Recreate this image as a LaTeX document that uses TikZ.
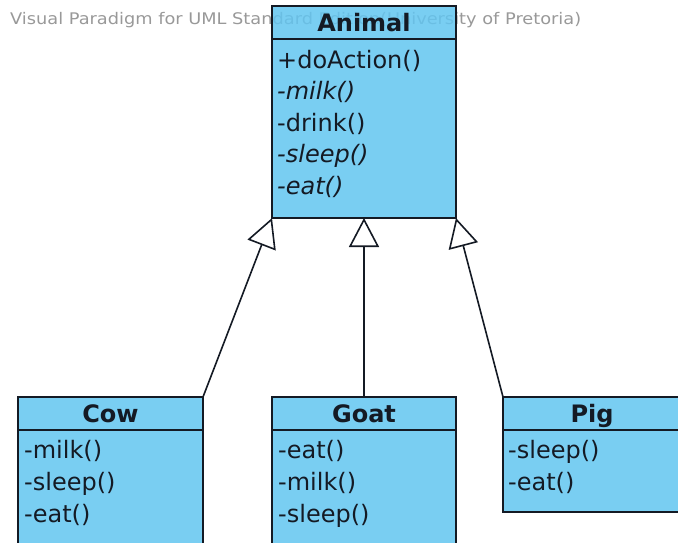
\documentclass[tikz,border=0pt]{standalone}
\usepackage{fontspec}
\setmainfont{DejaVu Sans}
\usetikzlibrary{arrows.meta}
\definecolor{classfill}{HTML}{62C5F0}
\definecolor{wmgray}{HTML}{999999}
\definecolor{ink}{HTML}{141A24}
\begin{document}
\begin{tikzpicture}[x=1pt,y=-1pt,
  classbox/.style={draw=ink, line width=1.6pt, fill=classfill, fill opacity=0.85,
    rectangle, anchor=north west, inner sep=0pt, outer sep=0pt},
  sepline/.style={draw=ink, line width=1.6pt},
  classname/.style={font=\fontsize{24}{24}\selectfont\bfseries, text=ink, anchor=base, inner sep=0pt},
  op/.style={font=\fontsize{24}{24}\selectfont, text=ink, anchor=base west, inner sep=0pt},
  opit/.style={op, font=\fontsize{24}{24}\selectfont\itshape},
  gen/.style={draw=ink, line width=1.6pt,
    -{Triangle[length=29pt, width=30pt, fill=white, line width=1.6pt]}}
]
\useasboundingbox (0,0) rectangle (678,542);
\clip (0,0) rectangle (678,542);

% tool watermark, partly covered by the class boxes
\node[anchor=base west, inner sep=0pt, text=wmgray, font=\fontsize{16}{16}\selectfont]
  (wm) at (10,24) {\scalebox{1.11}[1]{Visual Paradigm for UML Standard Edition(University of Pretoria)}};

% superclass
\node[classbox, minimum width=184pt, minimum height=212pt] (animal) at (272,6) {};
\draw[sepline] ([yshift=-33pt]animal.north west) -- ([yshift=-33pt]animal.north east);
\node[classname] (animalT) at ([yshift=-25pt]animal.north) {Animal};
\node[op]   (a1) at (277,68)    {+doAction()};
\node[opit] (a2) at (277,99.5)  {-milk()};
\node[op]   (a3) at (277,131)   {-drink()};
\node[opit] (a4) at (277,162.5) {-sleep()};
\node[opit] (a5) at (277,194)   {-eat()};

% subclasses
\node[classbox, minimum width=185pt, minimum height=200pt] (cow) at (18,397) {};
\draw[sepline] ([yshift=-33pt]cow.north west) -- ([yshift=-33pt]cow.north east);
\node[classname] (cowT) at ([yshift=-25pt]cow.north) {Cow};
\node[op] (c1) at (24,458) {-milk()};
\node[op] (c2) at (24,490) {-sleep()};
\node[op] (c3) at (24,522) {-eat()};

\node[classbox, minimum width=184pt, minimum height=200pt] (goat) at (272,397) {};
\draw[sepline] ([yshift=-33pt]goat.north west) -- ([yshift=-33pt]goat.north east);
\node[classname] (goatT) at ([yshift=-25pt]goat.north) {Goat};
\node[op] (g1) at (278,458) {-eat()};
\node[op] (g2) at (278,490) {-milk()};
\node[op] (g3) at (278,522) {-sleep()};

\node[classbox, minimum width=200pt, minimum height=115pt] (pig) at (503,397) {};
\draw[sepline] ([yshift=-33pt]pig.north west) -- ([yshift=-33pt]pig.north east);
\node[classname] (pigT) at (592,422) {Pig};
\node[op] (p1) at (508,458) {-sleep()};
\node[op] (p2) at (508,490) {-eat()};

% generalisations
\draw[gen] (cow.north east) -- (animal.south west);
\draw[gen] (goat.north) -- (animal.south);
\draw[gen] (pig.north west) -- (animal.south east);
\end{tikzpicture}
\end{document}
